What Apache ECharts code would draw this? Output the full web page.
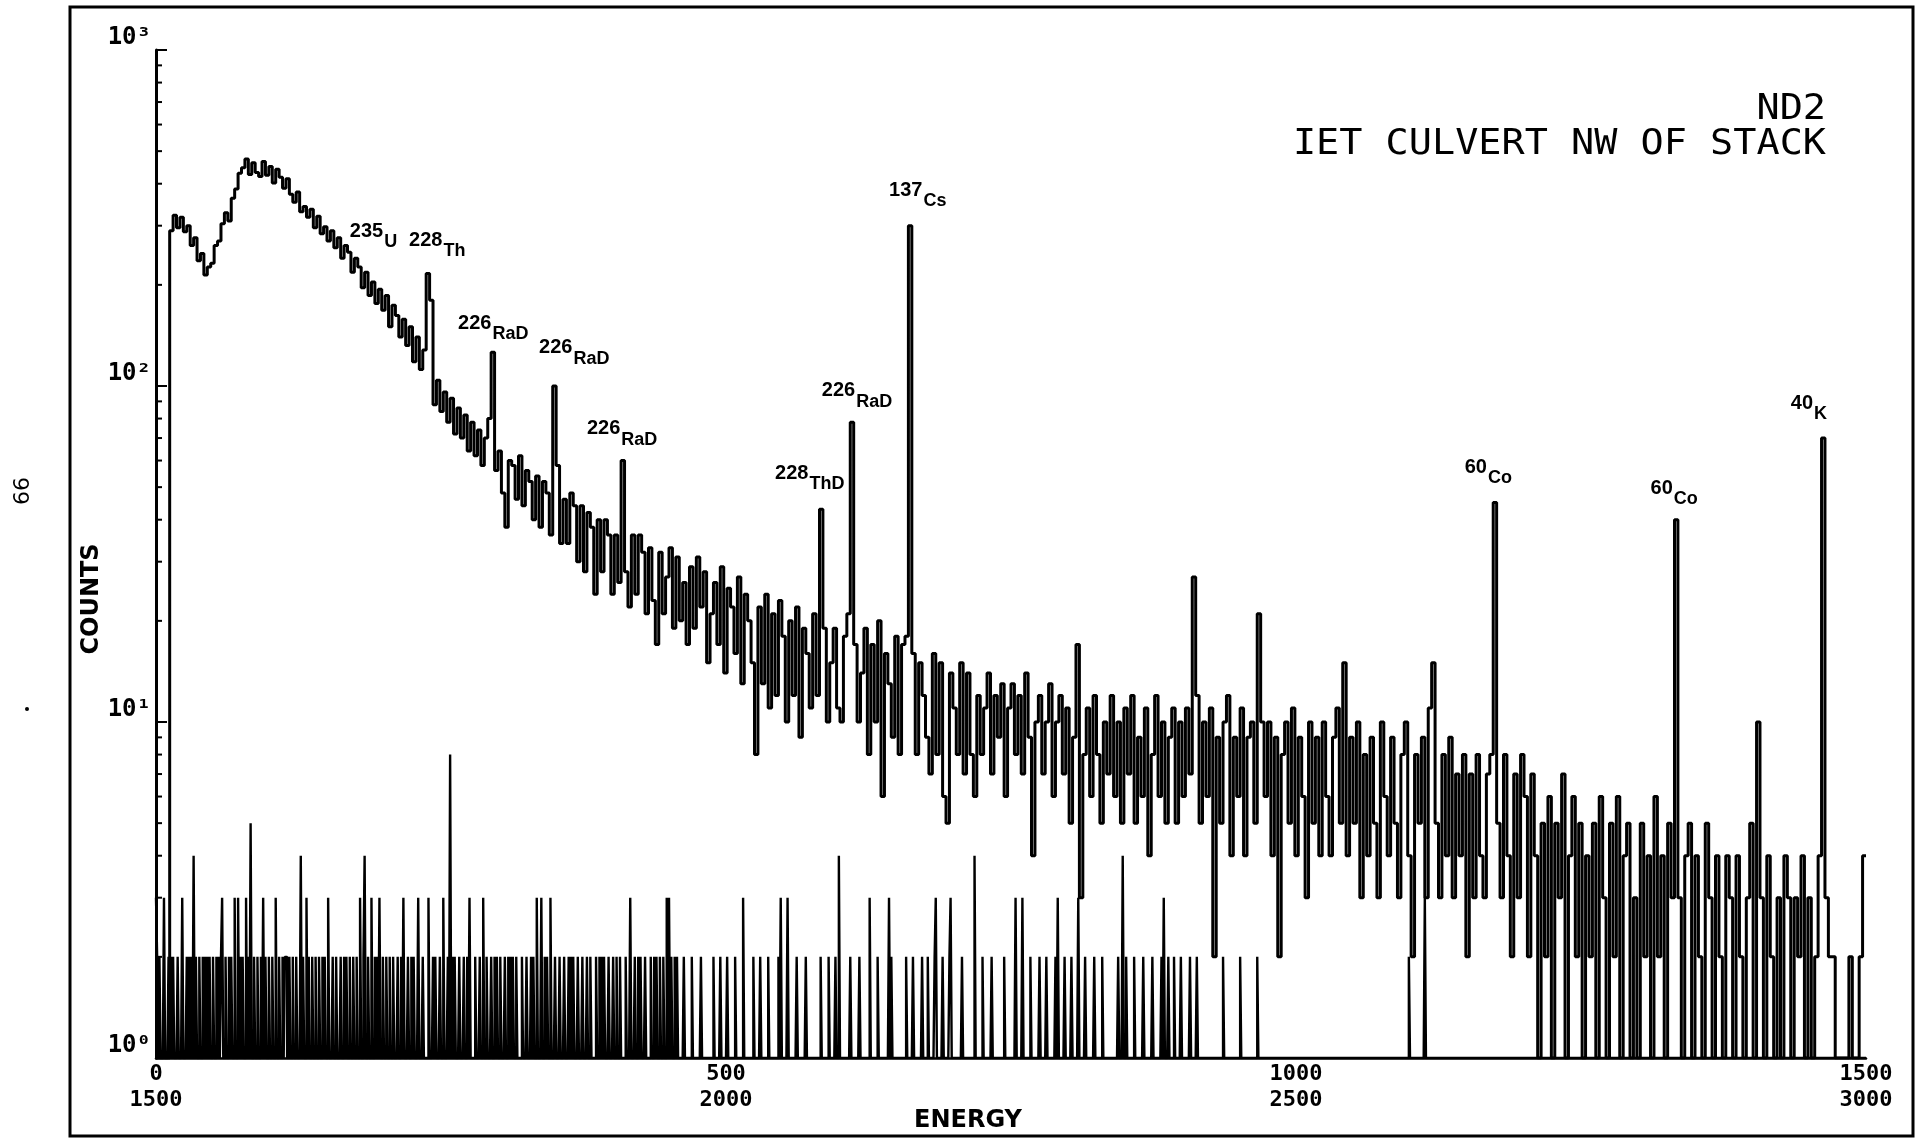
<!DOCTYPE html>
<html><head><meta charset="utf-8">
<script src="https://cdn.jsdelivr.net/npm/echarts@6/dist/echarts.min.js"></script>
<style>html,body{margin:0;padding:0;background:#fff}#c{width:1926px;height:1140px}</style>
</head><body><div id="c"></div>
<script>
// ---- data (channels 0-1500, bins of 3 channels) ----
const binWidth = 3;
const countsA = [
1,1,1,1,290,322,296,318,288,300,262,276,236,248,214,226,232,262,270,304,
328,310,362,386,430,446,474,426,462,432,420,466,424,450,402,442,418,388,414,372,
352,378,330,342,318,336,296,320,284,298,270,290,258,276,240,262,250,218,240,226,
196,218,186,204,176,194,168,186,150,174,162,140,158,132,150,118,140,112,128,216,
180,88,104,84,96,78,92,72,86,70,82,64,78,62,74,58,70,80,126,56,
64,48,38,60,58,46,62,44,56,52,40,54,38,52,48,36,100,58,34,46,
34,48,44,30,44,28,42,38,24,40,28,40,36,24,36,26,60,28,22,36,
24,36,32,21,33,23,17,32,21,27,33,19,31,20,26,17,29,19,31,22,
28,15,21,26,17,29,14,25,22,16,27,13,24,20,15,8,22,13,24,11,
21,12,23,18,10,20,12,22,9,19,16,11,21,12,43,19,10,15,19,11,
10,18,21,78,17,10,14,19,8,17,10,20,6,16,13,9,18,8,17,18,
300,16,8,15,12,9,7,16,8,15,6,5,14,11,8,15,7,14,8,6,
12,8,11,14,7,12,9,13,6,11,13,8,12,7,14,9,4,10,12,7,
10,13,6,10,12,7,11,5,9,17,3,8,11,6,12,8,5,10,7,12,
6,10,5,11,7,12,5,9,6,11,4,8,12,6,10,5,9,11,5,10,
6,11,7,27,12,5,10,6,11,2,9,5,10,12,4,9,6,11,4,9,
10,5,21,10,6,10,4,9,2,8,10,5,11,4,9,6,3,10,5,9,
4,10,6,4,9,11,5,15,4,9,5,10,3,8,4,9,5,3,10,6,
4,9,5,3,8,10,4,2,8,5,9,3,11,15,5,3,8,4,9,3,
7,4,8,2,7,3,8,4,3,7,8,45,5,3,8,4,2,7,3,8,
6,2,7,4,1,5,2,6,1,5,3,7,1,4,6,2,5,1,4,2,
5,1,6,3,1,5,2,6,1,4,5,1,3,1,5,2,4,1,6,2,
4,1,5,3,40,3,1,4,5,1,4,2,1,5,3,1,4,2,1,4,
3,1,4,2,1,3,5,1,10,3,1,4,2,1,3,1,4,3,1,3,
2,4,1,3,1,2,4,70,3,2,2,1,1,1,1,2,1,1,2,4
];
// channels 1500-3000 (plotted against 0-1500): [channel-1500, counts], all other channels <= 1
const lowTraceSpikes = [
[0,3],[1,2],[3,2],[7,3],[11,2],[13,2],[15,2],[19,2],[23,3],[27,2],[29,2],[31,2],[33,4],[35,2],[38,2],[41,2],[43,2],[45,2],[47,2],[50,2],
[53,2],[55,2],[57,2],[58,3],[61,2],[64,2],[66,2],[69,3],[72,3],[74,2],[76,2],[79,3],[81,2],[83,5],[86,2],[89,2],[92,2],[94,3],[96,2],[99,2],
[102,2],[105,3],[108,2],[111,2],[113,2],[114,2],[117,2],[120,2],[123,2],[127,4],[129,2],[132,3],[134,2],[137,2],[140,2],[143,2],[146,2],[148,2],[151,3],[155,2],
[158,2],[162,2],[165,2],[167,2],[170,2],[173,2],[176,2],[179,3],[182,2],[183,4],[186,2],[189,3],[192,2],[194,2],[196,3],[199,2],[202,2],[205,2],[208,2],[212,2],
[215,2],[217,3],[221,2],[224,2],[226,2],[230,3],[234,2],[239,3],[243,2],[245,2],[249,2],[252,3],[256,2],[258,8],[260,2],[262,2],[266,2],[270,2],[273,2],[275,3],
[280,2],[284,2],[287,3],[290,2],[294,2],[297,2],[299,2],[302,2],[306,2],[309,2],[311,2],[313,2],[316,2],[321,2],[325,2],[329,2],[331,2],[334,3],[338,3],[341,2],
[343,2],[346,3],[350,2],[354,2],[358,2],[362,2],[364,2],[366,2],[370,2],[374,2],[378,2],[381,2],[386,2],[389,2],[391,2],[393,2],[397,2],[401,2],[404,2],[407,2],
[412,2],[416,3],[420,2],[423,2],[425,2],[429,2],[434,2],[437,2],[439,2],[442,2],[445,2],[448,3],[450,3],[452,2],[455,2],[457,2],[463,2],[470,2],[478,2],[489,2],
[495,2],[501,2],[508,2],[515,3],[524,2],[530,2],[537,2],[546,2],[548,3],[554,3],[562,2],[570,2],[583,2],[590,2],[596,2],[599,4],[609,2],[617,2],[626,3],[633,2],
[643,3],[645,2],[658,2],[664,2],[672,2],[677,2],[683,2],[684,3],[690,2],[696,2],[697,3],[707,2],[718,4],[725,2],[733,2],[744,2],[754,3],[760,3],[767,2],[775,2],
[781,2],[789,2],[791,3],[797,2],[803,2],[809,3],[815,2],[823,2],[830,2],[844,2],[848,4],[851,2],[858,2],[866,2],[874,2],[882,2],[884,3],[888,2],[893,2],[899,2],
[907,2],[913,2],[936,2],[951,2],[966,2],[1099,2],[1113,3]
];
const xTickTop = [0, 500, 1000, 1500];
const xTickBottom = [1500, 2000, 2500, 3000];
const yTickValues = [1, 10, 100, 1000];
const yTickLabels = ['10\u2070', '10\u00b9', '10\u00b2', '10\u00b3'];
// nuclide labels: mass number, element, anchor in data coords (channel, counts)
const peakLabels = [
 {mass:'235', el:'U',   ch:170,  count:289},
 {mass:'228', el:'Th',  ch:222,  count:272},
 {mass:'226', el:'RaD', ch:265,  count:154},
 {mass:'226', el:'RaD', ch:336,  count:130},
 {mass:'226', el:'RaD', ch:378,  count:74.5},
 {mass:'228', el:'ThD', ch:543,  count:55},
 {mass:'226', el:'RaD', ch:584,  count:96.7},
 {mass:'137', el:'Cs',  ch:643,  count:383},
 {mass:'60',  el:'Co',  ch:1148, count:57.4},
 {mass:'60',  el:'Co',  ch:1311, count:49.7},
 {mass:'40',  el:'K',   ch:1434, count:89}
];
const titleLines = ['ND2', 'IET CULVERT NW OF STACK'];
const xAxisName = 'ENERGY';
const yAxisName = 'COUNTS';
const pageNumber = '99';

// ---- build ----
const chart = echarts.init(document.getElementById('c'), null, {renderer: 'canvas'});
const dataA = countsA.map((v, i) => [i * binWidth, v]);
dataA.push([1500, countsA[countsA.length - 1]]);
const low = new Array(1501).fill(1);
lowTraceSpikes.forEach(([c, v]) => { low[c] = v; });
const dataB = low.map((v, i) => [i, v]);

chart.setOption({
  animation: false,
  backgroundColor: '#fff',
  grid: {left: 156, right: 60, top: 50, bottom: 82},
  xAxis: {
    type: 'value', min: 0, max: 1500, interval: 500,
    axisLine: {show: true, lineStyle: {color: '#000', width: 2.5}},
    axisTick: {show: false}, splitLine: {show: false},
    axisLabel: {
      color: '#000', fontFamily: 'DejaVu Sans Mono', fontWeight: 'bold', fontSize: 22,
      lineHeight: 26, margin: 3,
      formatter: (v) => { const i = xTickTop.indexOf(v); return i < 0 ? '' : xTickTop[i] + '\n' + xTickBottom[i]; }
    }
  },
  yAxis: {
    type: 'log', logBase: 10, min: 1, max: 1000,
    axisLine: {show: true, lineStyle: {color: '#000', width: 3}},
    axisTick: {show: true, inside: true, length: 11, lineStyle: {color: '#000', width: 2}},
    splitLine: {show: false}, minorTick: {show: false},
    axisLabel: {
      color: '#000', fontFamily: 'DejaVu Sans Mono', fontWeight: 'bold', fontSize: 24,
      margin: 5, verticalAlign: 'bottom',
      formatter: (v) => { const i = yTickValues.findIndex(t => Math.abs(t - v) < 1e-6 * t); return i < 0 ? '' : yTickLabels[i]; }
    }
  },
  series: [
    {type: 'line', data: dataB, step: 'end', symbol: 'none', lineStyle: {color: '#000', width: 2.4}, z: 2},
    {type: 'line', data: dataA, step: 'end', symbol: 'none', lineStyle: {color: '#000', width: 3}, z: 3}
  ]
});

const g = [];
// frame
g.push({type: 'rect', shape: {x: 70, y: 7, width: 1843, height: 1129}, style: {fill: 'none', stroke: '#000', lineWidth: 3}, silent: true});
// minor ticks on the log axis (2..9 in each decade)
for (let d = 0; d < 3; d++) {
  for (let k = 2; k <= 9; k++) {
    const p = chart.convertToPixel({gridIndex: 0}, [0, k * Math.pow(10, d)]);
    g.push({type: 'line', shape: {x1: p[0], y1: p[1], x2: p[0] + 6, y2: p[1]}, style: {stroke: '#000', lineWidth: 2}, silent: true});
  }
}
// nuclide labels
const ctx = document.createElement('canvas').getContext('2d');
const massFont = 'bold 20px "Liberation Sans", "DejaVu Sans", sans-serif';
const elFont = 'bold 18px "Liberation Sans", "DejaVu Sans", sans-serif';
ctx.font = massFont;
peakLabels.forEach(L => {
  const p = chart.convertToPixel({gridIndex: 0}, [L.ch, L.count]);
  const w = ctx.measureText(L.mass).width;
  g.push({type: 'text', x: p[0], y: p[1], style: {text: L.mass, font: massFont, fill: '#000', textAlign: 'left', textVerticalAlign: 'middle'}});
  g.push({type: 'text', x: p[0] + w + 1, y: p[1] + 11, style: {text: L.el, font: elFont, fill: '#000', textAlign: 'left', textVerticalAlign: 'middle'}});
});
// title
const titleFont = '38.5px "DejaVu Sans Mono", monospace';
g.push({type: 'text', x: 1826, y: 110, scaleY: 0.92, style: {text: titleLines[0], font: titleFont, fill: '#000', textAlign: 'right', textVerticalAlign: 'middle'}});
g.push({type: 'text', x: 1826, y: 145, scaleY: 0.92, style: {text: titleLines[1], font: titleFont, fill: '#000', textAlign: 'right', textVerticalAlign: 'middle'}});
// axis names
g.push({type: 'text', x: 968, y: 1121, style: {text: xAxisName, font: 'bold 24px "DejaVu Sans", sans-serif', fill: '#000', textAlign: 'center', textVerticalAlign: 'middle'}});
g.push({type: 'text', x: 92, y: 599, rotation: Math.PI / 2, style: {text: yAxisName, font: 'bold 24px "DejaVu Sans", sans-serif', fill: '#000', textAlign: 'center', textVerticalAlign: 'middle'}});
// page number (rotated with the page) and scan speck
g.push({type: 'text', x: 19, y: 491, rotation: -Math.PI / 2, style: {text: pageNumber, font: '22px "DejaVu Sans", sans-serif', fill: '#000', textAlign: 'center', textVerticalAlign: 'middle'}});
g.push({type: 'circle', shape: {cx: 27, cy: 709, r: 2}, style: {fill: '#000'}, silent: true});

chart.setOption({graphic: g});
</script>
</body></html>
